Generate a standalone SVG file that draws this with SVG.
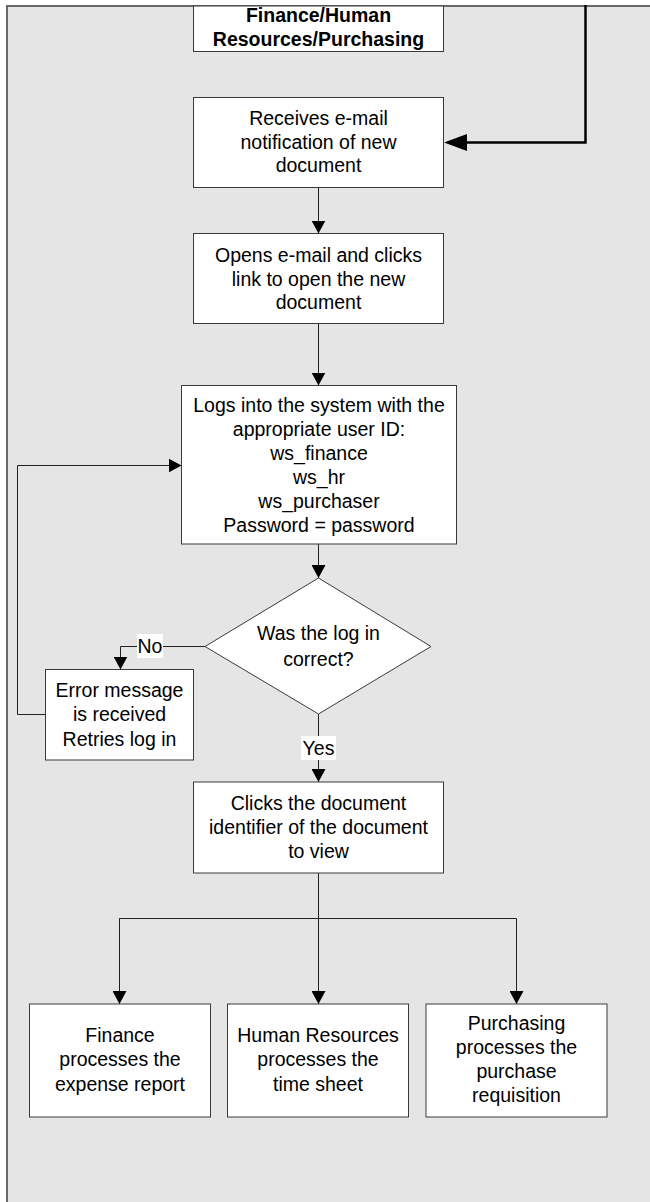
<svg xmlns="http://www.w3.org/2000/svg" width="650" height="1202" viewBox="0 0 650 1202">
<style>
.box{fill:#fff;stroke:#3a3a3a;stroke-width:1}
.t{font-family:"Liberation Sans",Arial,sans-serif;font-size:19.5px;fill:#000;text-anchor:middle}
.b{font-weight:bold}
.c{fill:none;stroke:#222;stroke-width:1}
.lbl{fill:#fff;stroke:none}
</style>
<defs>
<marker id="ah" markerUnits="userSpaceOnUse" markerWidth="13" markerHeight="14" refX="13" refY="7" orient="auto">
<path d="M0,0 L13,7 L0,14 Z" fill="#000"/>
</marker>
</defs>
<rect x="7" y="6" width="700" height="1300" fill="#e5e5e5" stroke="#5a5a5a" stroke-width="1.8"/>

<g id="connectors">
<path d="M585.5,5 V142.5 H466" fill="none" stroke="#000" stroke-width="2.5"/>
<polygon points="444,142.5 467,134 467,151" fill="#000"/>
<path class="c" d="M318.5,187.5 V233.5" marker-end="url(#ah)"/>
<path class="c" d="M318.5,323.5 V385.5" marker-end="url(#ah)"/>
<path class="c" d="M318.5,544 V578" marker-end="url(#ah)"/>
<path class="c" d="M205,646.5 H120.5 V669.5" marker-end="url(#ah)"/>
<path class="c" d="M45.5,714.5 H17.5 V465.5 H181.5" marker-end="url(#ah)"/>
<path class="c" d="M318.5,714 V782" marker-end="url(#ah)"/>
<path class="c" d="M318.5,873 V1004" marker-end="url(#ah)"/>
<path class="c" d="M119.5,1004 V918.5 H516.5 V1004" marker-end="url(#ah)"/>
<path class="c" d="M119.5,918.5 V1004" marker-end="url(#ah)"/>
<rect class="lbl" x="137" y="634" width="26" height="24"/>
<text class="t" x="150" y="653">No</text>
<rect class="lbl" x="301" y="736" width="35" height="24"/>
<text class="t" x="318.5" y="755">Yes</text>
</g>

<g id="title">
<rect class="box" x="193.5" y="6" width="250" height="45.5"/>
<text class="t b" x="318.5" y="22">Finance/Human</text>
<text class="t b" x="318.5" y="46">Resources/Purchasing</text>
</g>

<g id="receives">
<rect class="box" x="193.5" y="97.5" width="250" height="90"/>
<text class="t" x="318.5" y="125">Receives e-mail</text>
<text class="t" x="318.5" y="149">notification of new</text>
<text class="t" x="318.5" y="172">document</text>
</g>

<g id="opens">
<rect class="box" x="193.5" y="233.5" width="250" height="90"/>
<text class="t" x="318.5" y="262">Opens e-mail and clicks</text>
<text class="t" x="318.5" y="285.5">link to open the new</text>
<text class="t" x="318.5" y="309">document</text>
</g>

<g id="logs">
<rect class="box" x="181.5" y="385.5" width="275" height="158.5"/>
<text class="t" x="319" y="412">Logs into the system with the</text>
<text class="t" x="319" y="436">appropriate user ID:</text>
<text class="t" x="319" y="460">ws_finance</text>
<text class="t" x="319" y="484">ws_hr</text>
<text class="t" x="319" y="508">ws_purchaser</text>
<text class="t" x="319" y="532">Password = password</text>
</g>

<g id="decision">
<polygon class="box" points="318.5,578 431,646.5 318.5,714 205,646.5"/>
<text class="t" x="318.5" y="640">Was the log in</text>
<text class="t" x="318.5" y="666">correct?</text>
</g>

<g id="error">
<rect class="box" x="45.5" y="669.5" width="148" height="90.5"/>
<text class="t" x="119.5" y="697">Error message</text>
<text class="t" x="119.5" y="721">is received</text>
<text class="t" x="119.5" y="746">Retries log in</text>
</g>

<g id="clicks">
<rect class="box" x="193.5" y="782" width="250" height="91"/>
<text class="t" x="318.5" y="810">Clicks the document</text>
<text class="t" x="318.5" y="834">identifier of the document</text>
<text class="t" x="318.5" y="858">to view</text>
</g>

<g id="finance">
<rect class="box" x="29.5" y="1004" width="181" height="113"/>
<text class="t" x="120" y="1042">Finance</text>
<text class="t" x="120" y="1066">processes the</text>
<text class="t" x="120" y="1091">expense report</text>
</g>

<g id="hr">
<rect class="box" x="227.5" y="1004" width="181" height="113"/>
<text class="t" x="318" y="1042">Human Resources</text>
<text class="t" x="318" y="1066">processes the</text>
<text class="t" x="318" y="1091">time sheet</text>
</g>

<g id="purchasing">
<rect class="box" x="426" y="1004" width="181" height="113"/>
<text class="t" x="516.5" y="1030">Purchasing</text>
<text class="t" x="516.5" y="1054">processes the</text>
<text class="t" x="516.5" y="1078">purchase</text>
<text class="t" x="516.5" y="1102">requisition</text>
</g>
</svg>
